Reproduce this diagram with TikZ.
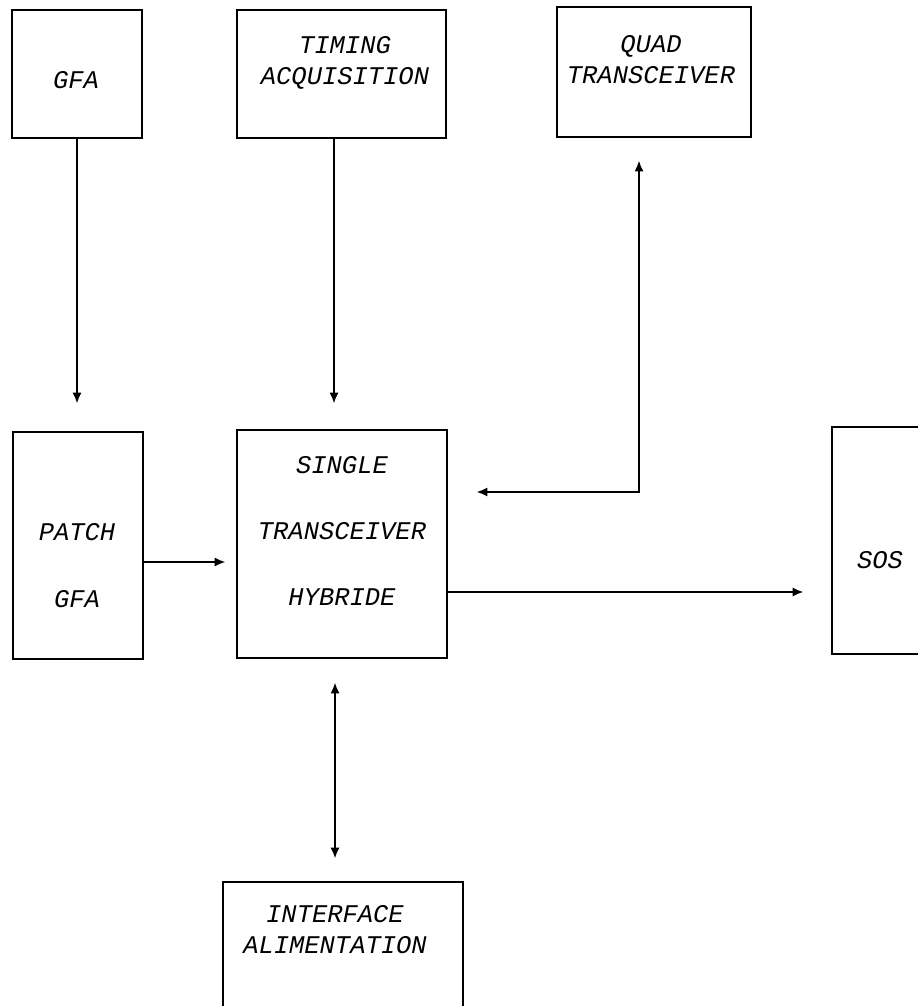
\documentclass[tikz,border=0pt]{standalone}
\usepackage{fontspec}
\newfontfamily\plotfont{Liberation Mono}
\usetikzlibrary{arrows.meta,calc}

\begin{document}
\begin{tikzpicture}[x=0.02cm, y=-0.02cm,
  blok/.style={draw, line width=1.5pt, inner sep=0pt},
  txt/.style={font=\plotfont\itshape\fontsize{14.5}{17.6}\selectfont, align=center, inner sep=0pt},
  arr/.style={line width=1.2pt, -{Latex[length=2.2mm,width=1.8mm]}},
  arrtwo/.style={line width=1.2pt, {Latex[length=2.2mm,width=1.8mm]}-{Latex[length=2.2mm,width=1.8mm]}}]
\useasboundingbox (0,0) rectangle (918,1006);
% Boxes
\node[blok, minimum width=2.6cm, minimum height=2.56cm] (gfa) at (77,74) {};
\node[blok, minimum width=4.18cm, minimum height=2.56cm] (timing) at (341.5,74) {};
\node[blok, minimum width=3.88cm, minimum height=2.6cm] (quad) at (654,72) {};
\node[blok, minimum width=2.6cm, minimum height=4.54cm] (patch) at (78,545.5) {};
\node[blok, minimum width=4.2cm, minimum height=4.56cm] (single) at (342,544) {};
\node[blok, minimum width=2.16cm, minimum height=4.54cm] (sos) at (886,540.5) {};
\node[blok, minimum width=4.8cm, minimum height=2.96cm] (iface) at (343,956) {};
% Labels
\node[txt] (gfa-l) at (76,80) {GFA};
\node[txt] (timing-l) at (345,63) {TIMING\\ACQUISITION};
\node[txt] (quad-l) at (651,60) {QUAD\\TRANSCEIVER};
\node[txt] (patch-l) at (77,566) {PATCH\\[20.5pt]GFA};
\node[txt] (single-l) at (342,531) {SINGLE\\[20pt]TRANSCEIVER\\[20pt]HYBRIDE};
\node[txt] (sos-l) at (880,560) {SOS};
\node[txt] (iface-l) at (335,930) {INTERFACE\\ALIMENTATION};
% Arrows
\coordinate (t) at (334,0);
\coordinate (qc) at (639,492);
\coordinate (pc) at (0,562);
\coordinate (sc) at (0,592);
\coordinate (ic) at (335,0);
\draw[arr, shorten >=0.54cm] (gfa.south) -- (gfa.south |- patch.north);
\draw[arr, shorten >=0.5cm] (timing.south -| t) -- (single.north -| t);
\draw[arrtwo, shorten <=0.44cm, shorten >=0.56cm] (quad.south -| qc) |- (single.east |- qc);
\draw[arr, shorten >=0.2cm] (patch.east |- pc) -- (single.west |- pc);
\draw[arr, shorten >=0.54cm] (single.east |- sc) -- (sos.west |- sc);
\draw[arrtwo, shorten <=0.46cm, shorten >=0.44cm] (single.south -| ic) -- (iface.north -| ic);
\end{tikzpicture}
\end{document}
